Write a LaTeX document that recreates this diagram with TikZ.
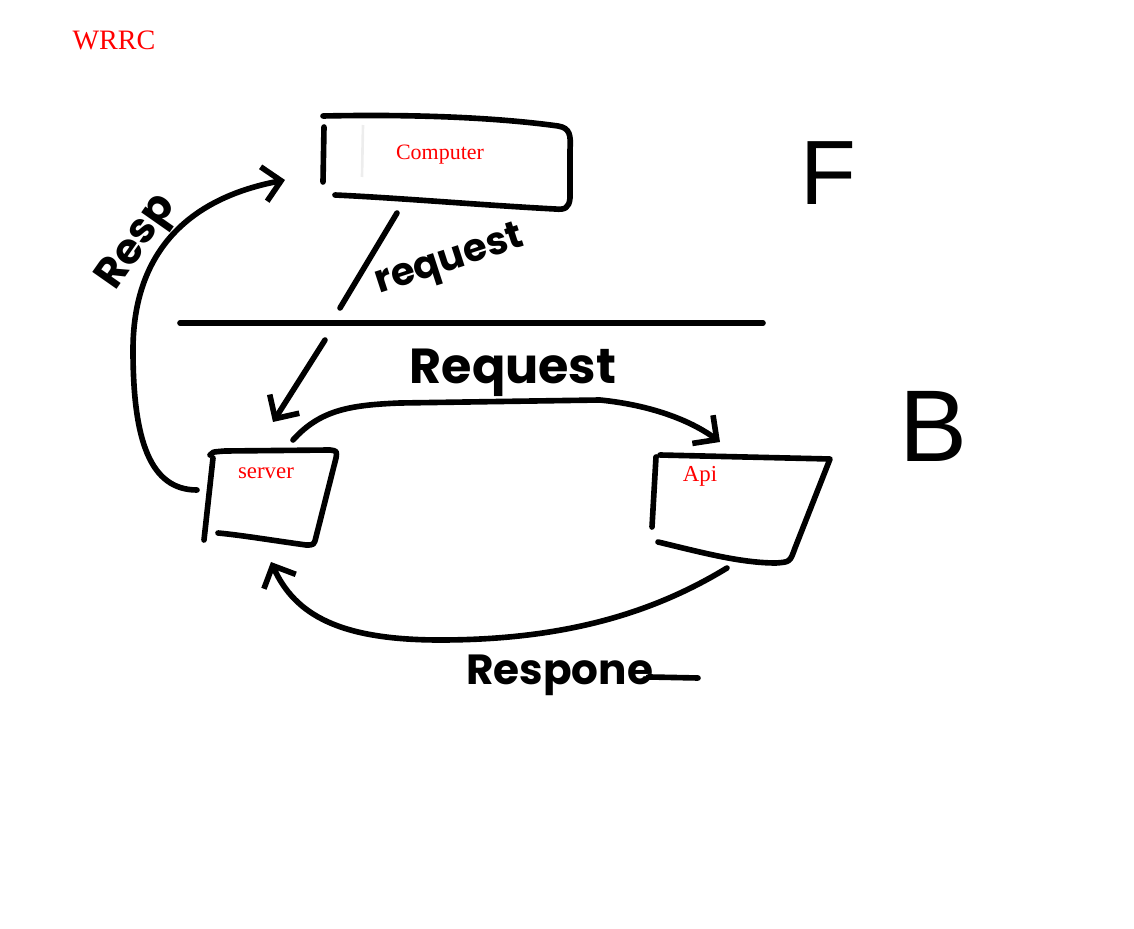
\documentclass[tikz,border=0pt]{standalone}
\usepackage{fontspec}
\setmainfont{Liberation Serif}
\newfontfamily\hand{Poppins}
\newfontfamily\bigsans{Liberation Sans}
\usetikzlibrary{arrows.meta}
\begin{document}
\begin{tikzpicture}[x=0.02cm,y=-0.02cm,
  ink/.style={line width=3.2pt, line cap=round, line join=round},
  arr/.style={ink, -{Straight Barb[length=3.5mm,width=7mm]}},
  lbl/.style={text=red, font=\fontsize{13}{15}\selectfont, inner sep=0pt},
  hw/.style={font=\hand\bfseries\fontsize{26}{30}\selectfont, inner sep=0pt},
  big/.style={font=\bigsans\fontsize{52}{52}\selectfont, inner sep=0pt}]
\useasboundingbox (0,0) rectangle (1134,929);

% title
\node[lbl, font=\fontsize{16}{18}\selectfont] (title) at (114,40) {WRRC};

% Computer box
\node[lbl, font=\fontsize{12.5}{15}\selectfont] (computer) at (440,155) {Computer};
\draw[ink] (323,116) .. controls (420,114) and (500,118) .. (558,126)
  .. controls (570,128) and (571,135) .. (570,150) -- (570,198)
  .. controls (569,208) and (565,210) .. (555,209)
  .. controls (480,205) and (400,198) .. (335,195);
\draw[ink] (324,127) -- (323,182);
\draw[black!7, line width=1.5pt] (363,125) -- (362,177);

% server box
\node[lbl] (server) at (266,473) {server};
\draw[ink] (210,455) .. controls (212,452) .. (225,451) -- (330,450)
  .. controls (337,451) .. (336,458) -- (316,537)
  .. controls (314,545) .. (306,545)
  .. controls (270,540) and (240,535) .. (218,533);
\draw[ink] (213,458) -- (204,540);

% Api box
\node[lbl] (api) at (700,476) {Api};
\draw[ink] (660,455) -- (830,459) -- (795,548)
  .. controls (790,562) .. (776,563)
  .. controls (740,563) and (700,552) .. (658,542);
\draw[ink] (656,457) -- (652,527);

% divider
\coordinate (divL) at (180,323);
\coordinate (divR) at (763,323);
\draw[ink] (divL) -- (divR);

% connectors
\coordinate (c1) at (397,213);
\coordinate (c2) at (340,308);
\draw[ink] (c1) -- (c2);
\coordinate (d1) at (325,340);
\coordinate (d2) at (273,422);
\draw[arr] (d1) -- (d2);

\coordinate (rqS) at (293,440);
\coordinate (rqE) at (720,442);
\draw[arr] (rqS) .. controls (320,410) and (350,405) .. (400,403) -- (600,400)
  .. controls (650,405) and (690,420) .. (rqE);

\coordinate (rsS) at (197,490);
\coordinate (rsE) at (285,180);
\draw[arr] (rsS) .. controls (150,490) and (133,440) .. (133,350)
  .. controls (133,260) and (180,200) .. (rsE);

\coordinate (rpS) at (727,568);
\coordinate (rpE) at (271,562);
\draw[arr] (rpS) .. controls (650,615) and (560,640) .. (440,640)
  .. controls (340,640) and (295,615) .. (rpE);

% handwritten labels
\node[hw, font=\hand\bfseries\fontsize{22}{26}\selectfont, rotate=18] (request1) at (450,262) {request};
\node[hw, font=\hand\bfseries\fontsize{28}{30}\selectfont] (request2) at (513,373) {Request};
\node[hw, font=\hand\bfseries\fontsize{24}{28}\selectfont, rotate=55] (resp) at (138,243) {Resp};
\node[hw, font=\hand\bfseries\fontsize{24}{28}\selectfont, anchor=base west] (respone) at (466,684) {Respone};
\coordinate (tail) at (698,678);
\draw[ink] ([xshift=-3pt,yshift=4pt]respone.base east) -- (tail);

\node[big] (F) at (828,173) {F};
\node[big, font=\bigsans\fontsize{58}{58}\selectfont] (B) at (933,426) {B};
\end{tikzpicture}
\end{document}
